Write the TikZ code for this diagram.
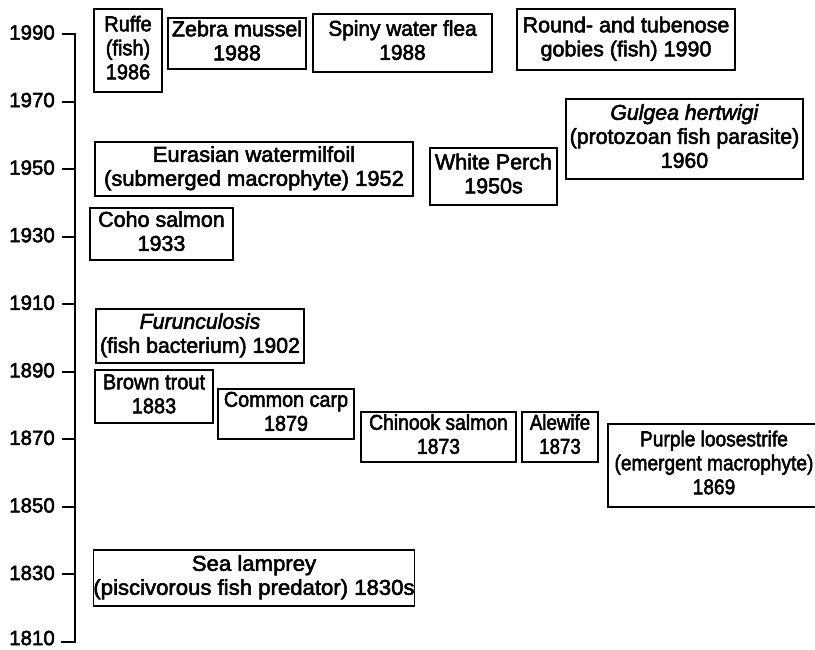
\documentclass[tikz,border=0pt]{standalone}
\usepackage{fontspec}
\usepackage{graphicx}
\setmainfont{Liberation Sans}[FakeBold=2.5]
% centred multi-line label, squeezed horizontally by #1
\newcommand\boxtext[2]{\scalebox{#1}[1]{\begin{tabular}{@{}c@{}}#2\end{tabular}}}
\begin{document}
\begin{tikzpicture}[x=1pt,y=-1pt,
  tagbox/.style={draw=black, line width=1.6pt, inner sep=0pt,
    font=\fontsize{21.5}{24}\selectfont},
  yearlab/.style={anchor=east, inner sep=0pt, font=\fontsize{20.5}{24}\selectfont},
  axisline/.style={line width=2pt, line join=miter}]
\clip (0,0) rectangle (815,650);
\fill[white] (0,0) rectangle (815,650);

% time axis with its end ticks
\coordinate (top) at (75,34);
\coordinate (bot) at (75,642);
\coordinate (topL) at (62,34);
\coordinate (botL) at (61,642);
\draw[axisline] (topL) -- (top) -- (bot) -- (botL);

% intermediate ticks and year labels, 20 years apart
\foreach \yr [count=\i from 0] in {1990,1970,1950,1930,1910,1890,1870,1850,1830,1810} {
  \pgfmathsetmacro{\yy}{34+67.56*\i}
  \pgfmathsetmacro{\ly}{\i==9 ? \yy-4 : \yy-1.5}
  \coordinate (t\i) at (75,\yy);
  \coordinate (tl\i) at (62,\yy);
  \draw[axisline] (tl\i) -- (t\i);
  \node[yearlab] (lab\i) at (55,\ly) {\yr};
}

% species boxes
\node[tagbox, minimum width=68pt, minimum height=83pt] (ruffe) at (128,50.5) {\boxtext{0.93}{Ruffe\\(fish)\\1986}};
\node[tagbox, minimum width=138pt, minimum height=51pt] (zebra) at (237,43.5) {\boxtext{1}{Zebra mussel\\1988}};
\node[tagbox, minimum width=179pt, minimum height=58pt] (flea) at (402.5,43) {\boxtext{0.97}{Spiny water flea\\1988}};
\node[tagbox, minimum width=218pt, minimum height=61pt] (gobies) at (626,39.5) {\boxtext{1}{Round- and tubenose\\gobies (fish) 1990}};
\node[tagbox, minimum width=318pt, minimum height=54pt] (milfoil) at (254,169) {\boxtext{1.02}{Eurasian watermilfoil\\(submerged macrophyte) 1952}};
\node[tagbox, minimum width=127pt, minimum height=57pt] (perch) at (493.5,176.5) {\boxtext{1}{White Perch\\1950s}};
\node[tagbox, minimum width=237pt, minimum height=80pt] (glugea) at (684.5,139) {\boxtext{0.99}{\textit{Gulgea hertwigi}\\(protozoan fish parasite)\\1960}};
\node[tagbox, minimum width=143pt, minimum height=52pt] (coho) at (161.5,234) {\boxtext{1}{Coho salmon\\1933}};
\node[tagbox, minimum width=208pt, minimum height=54pt] (furunc) at (200,336) {\boxtext{0.99}{\textit{Furunculosis}\\(fish bacterium) 1902}};
\node[tagbox, minimum width=118pt, minimum height=53pt] (brown) at (154,396.5) {\boxtext{0.93}{Brown trout\\1883}};
\node[tagbox, minimum width=136pt, minimum height=50pt] (carp) at (286,414) {\boxtext{0.92}{Common carp\\1879}};
\node[tagbox, minimum width=155pt, minimum height=50pt] (chinook) at (438.5,437) {\boxtext{0.9}{Chinook salmon\\1873}};
\node[tagbox, minimum width=76pt, minimum height=50pt] (alewife) at (560,437) {\boxtext{0.87}{Alewife\\1873}};
\node[tagbox, minimum width=212pt, minimum height=83pt] (loose) at (714,465.5) {\boxtext{0.89}{Purple loosestrife\\(emergent macrophyte)\\1869}};
\node[tagbox, minimum width=318pt, minimum height=56pt] (lamprey) at (254,578) {\boxtext{1.03}{Sea lamprey\\(piscivorous fish predator) 1830s}};
\end{tikzpicture}
\end{document}
